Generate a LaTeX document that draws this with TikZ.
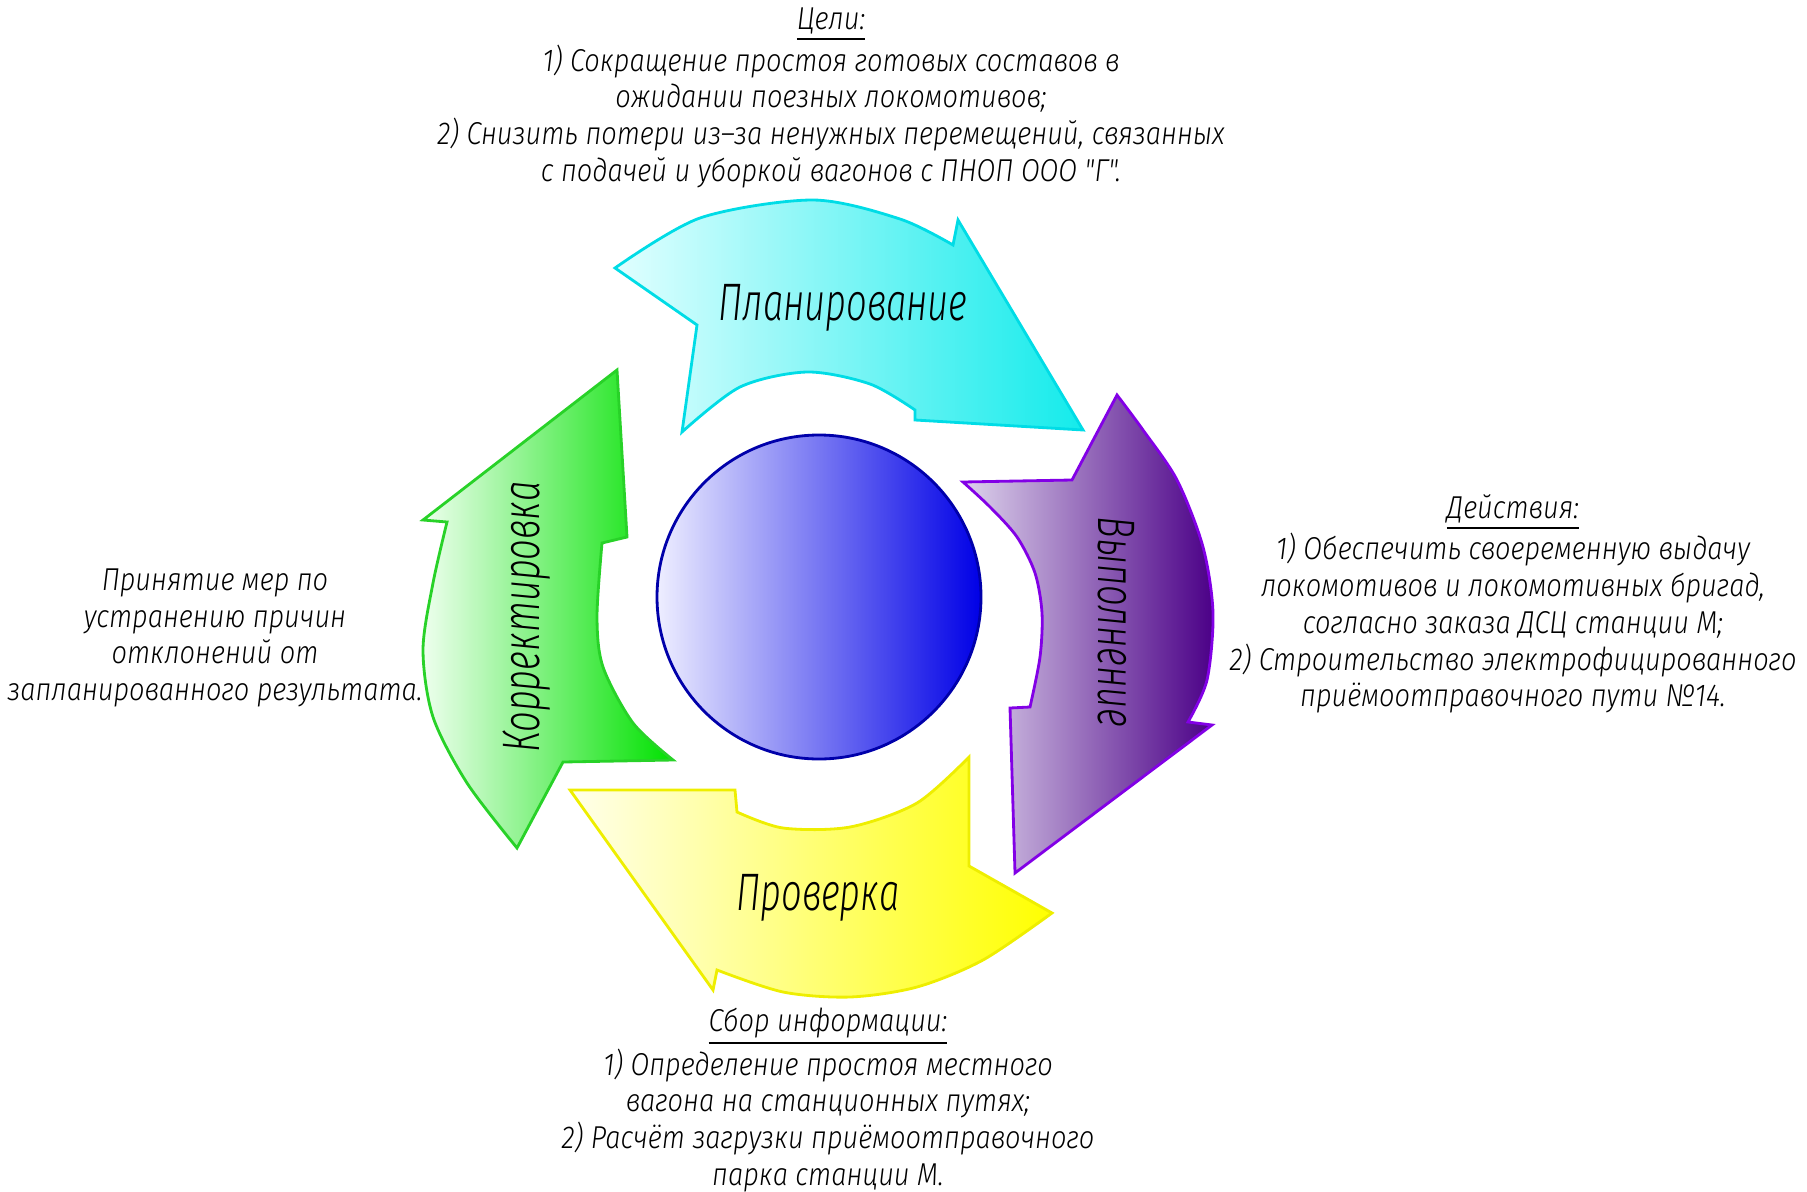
\documentclass[tikz,border=0pt]{standalone}
\usepackage{fontspec}
\IfFontExistsTF{Fira Sans Light Italic}
 {\newfontfamily\gostfont{Fira Sans Light Italic}[FakeStretch=0.86]
  \newfontfamily\gostbig{Fira Sans Light Italic}[FakeStretch=0.69]}
 {\newfontfamily\gostfontbase{Fira Sans}[FakeStretch=0.86]\newcommand\gostfont{\gostfontbase\itshape}
  \newfontfamily\gostbigbase{Fira Sans}[FakeStretch=0.69]\newcommand\gostbig{\gostbigbase\itshape}}
\definecolor{cyanL}{RGB}{225,255,255}
\definecolor{cyanR}{RGB}{20,235,235}
\definecolor{cyanB}{RGB}{0,220,230}
\definecolor{purL}{RGB}{222,212,236}
\definecolor{purR}{RGB}{75,0,135}
\definecolor{purB}{RGB}{130,0,230}
\definecolor{yelL}{RGB}{255,255,235}
\definecolor{yelR}{RGB}{255,255,0}
\definecolor{yelB}{RGB}{238,238,0}
\definecolor{grnL}{RGB}{238,255,238}
\definecolor{grnR}{RGB}{0,225,0}
\definecolor{grnB}{RGB}{40,210,40}
\definecolor{bluL}{RGB}{238,238,255}
\definecolor{bluR}{RGB}{0,0,230}
\definecolor{bluB}{RGB}{0,0,170}
\begin{document}
\begin{tikzpicture}[x=0.01cm,y=-0.01cm,
  smalltext/.style={font=\gostfont\fontsize{9}{10.45}\selectfont, align=center, inner sep=0pt},
  bigtext/.style={font=\gostbig\fontsize{15}{18}\selectfont, inner sep=0pt},
  arrowshape/.style={line width=0.8pt, line join=miter},
  cyanarrow/.style={arrowshape, draw=cyanB, left color=cyanL, right color=cyanR},
  purplearrow/.style={arrowshape, draw=purB, left color=purL, right color=purR},
  yellowarrow/.style={arrowshape, draw=yelB, left color=yelL, right color=yelR},
  greenarrow/.style={arrowshape, draw=grnB, left color=grnL, right color=grnR},
  ball/.style={line width=0.8pt, draw=bluB, left color=bluL, right color=bluR}]
\useasboundingbox (0,0) rectangle (1807,1191);

% arrows
\draw[cyanarrow] (615,268) -- (697,325) -- (682,432)
  -- plot[smooth] coordinates {(682,432) (740,387) (807,372) (870,384) (915,410)}
  -- (915,420) -- (1083,430) -- (958,220) -- (953,245)
  -- plot[smooth] coordinates {(953,245) (900,219) (813,200) (700,218) (615,268)} -- cycle;

\draw[purplearrow] (1117,395) -- (1072,480) -- (963,482)
  -- plot[smooth] coordinates {(963,482) (990,507) (1017,537) (1035,573) (1042,613) (1040,657) (1030,707)}
  -- (1010,708) -- (1015,873) -- (1212,725) -- (1188,722)
  -- plot[smooth] coordinates {(1188,722) (1207,680) (1213,613) (1203,547) (1177,480) (1143,430) (1117,395)} -- cycle;

\draw[yellowarrow] (969,757) -- (969,866) -- (1052,913)
  -- plot[smooth] coordinates {(1052,913) (983,960) (917,987) (850,997) (783,992) (717,970)}
  -- (713,990) -- (570,790) -- (735,790) -- (737,812)
  -- plot[smooth] coordinates {(737,812) (783,828) (850,827) (917,803) (969,757)} -- cycle;

\draw[greenarrow] (617,370) -- (423,520) -- (447,522)
  -- plot[smooth] coordinates {(447,522) (433,583) (423,650) (433,717) (467,783) (517,848)}
  -- (563,762) -- (673,760)
  -- plot[smooth] coordinates {(673,760) (633,723) (603,667) (597,617) (602,543)}
  -- (627,537) -- cycle;

% centre ball
\draw[ball] (819,597) circle[radius=162];

% arrow labels
\node[bigtext, anchor=base] (plan) at (843,320) {Планирование};
\node[bigtext, rotate=-90] (exec) at (1116,622) {Выполнение};
\node[bigtext, anchor=base] (check) at (818,910) {Проверка};
\node[bigtext, rotate=90] (corr) at (527,617) {Корректировка};

% descriptions
\node[smalltext] (goals) at (831,98) {\underline{Цели:}\\
1) Сокращение простоя готовых составов в\\
ожидании поезных локомотивов;\\
2) Снизить потери из–за ненужных перемещений, связанных\\
с подачей и уборкой вагонов с ПНОП ООО "Г".};

\node[smalltext] (actions) at (1513,604) {\underline{Действия:}\\
1) Обеспечить своеременную выдачу\\
локомотивов и локомотивных бригад,\\
согласно заказа ДСЦ станции М;\\
2) Строительство электрофицированного\\
приёмоотправочного пути №14.};

\node[smalltext] (measures) at (215,638) {Принятие мер по\\
устранению причин\\
отклонений от\\
запланированного результата.};

\node[smalltext] (info) at (828,1100) {\underline{Сбор информации:}\\
1) Определение простоя местного\\
вагона на станционных путях;\\
2) Расчёт загрузки приёмоотправочного\\
парка станции М.};
\end{tikzpicture}
\end{document}
